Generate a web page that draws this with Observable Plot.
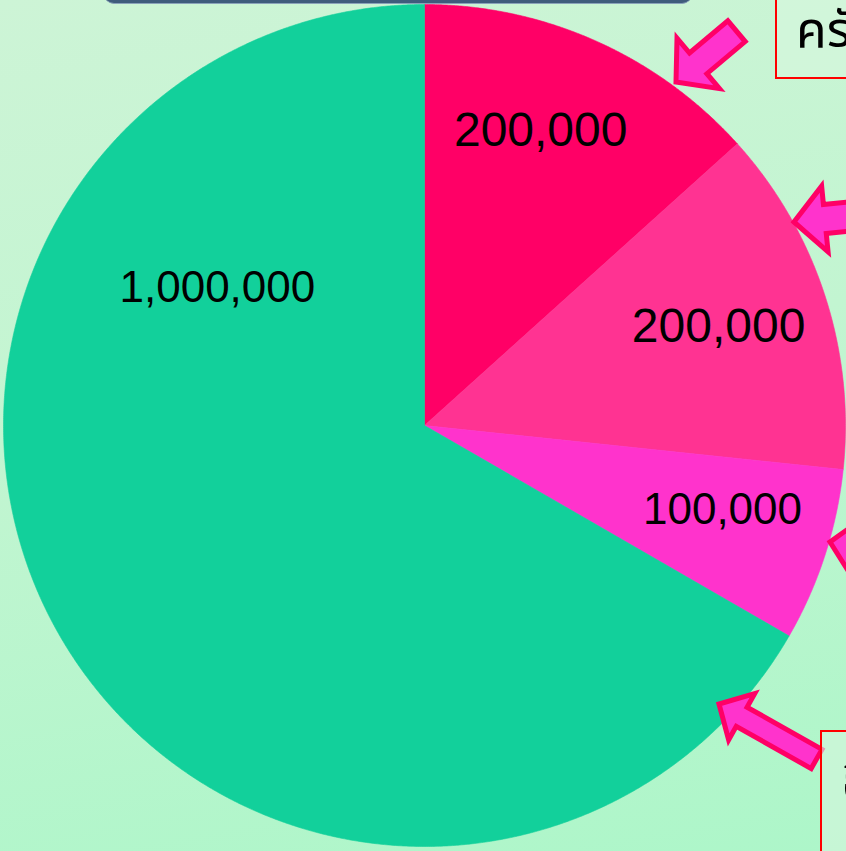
<!DOCTYPE html>
<html><head><meta charset="utf-8">
<script src="https://cdn.jsdelivr.net/npm/d3@7"></script>
<script src="https://cdn.jsdelivr.net/npm/@observablehq/plot@0.6"></script>
<style>
html,body{margin:0;padding:0;}
body{width:846px;height:851px;overflow:hidden;position:relative;
  background:linear-gradient(170deg,#cdf4d6 0%,#c2f5d1 45%,#adf6c9 100%);}
#topbar{position:absolute;left:104px;top:-30px;width:588px;height:33px;border-radius:10px;
  background:#3f5c7c;border-bottom:1px solid #8aa2ba;}
#chart{position:absolute;left:0;top:0;}
</style></head><body>
<div id="topbar"></div>
<div id="chart"></div>
<script>
// ---- data ----
const categories = ["ส่วนที่ 1", "ส่วนที่ 2", "ส่วนที่ 3", "ส่วนที่ 4"];
const values = [200000, 200000, 100000, 1000000];
const colors = ["#ff0066", "#ff3392", "#ff33cc", "#12d09b"];
const valueLabels = values.map(d3.format(","));

// ---- build slices (clockwise from 12 o'clock) ----
const total = d3.sum(values);
let acc = 0;
const slices = values.map((v, i) => {
  const a0 = acc / total * 2 * Math.PI; acc += v;
  const a1 = acc / total * 2 * Math.PI;
  return {cat: categories[i], a0, a1};
});
const piePts = [];
for (const s of slices) {
  piePts.push({cat: s.cat, x: 0, y: 0});
  const n = Math.max(2, Math.ceil((s.a1 - s.a0) / (Math.PI / 720)));
  for (let k = 0; k <= n; k++) {
    const a = s.a0 + (s.a1 - s.a0) * k / n;
    piePts.push({cat: s.cat, x: Math.sin(a), y: Math.cos(a)});
  }
  piePts.push({cat: s.cat, x: 0, y: 0});
}
// label placement (angle in degrees clockwise from top, fraction of radius, font size)
const labelPlace = [[21.5, 0.753, 48], [71.4, 0.737, 48], [105.9, 0.736, 44], [303.5, 0.59, 44]];
const labelData = valueLabels.map((t, i) => {
  const a = labelPlace[i][0] * Math.PI / 180, r = labelPlace[i][1];
  return {text: t, x: r * Math.sin(a), y: r * Math.cos(a), size: labelPlace[i][2]};
});

const chart = Plot.plot({
  width: 846, height: 851, margin: 0,
  style: {background: "none", overflow: "visible"},
  x: {domain: [-1, 1], range: [3, 845], axis: null},
  y: {domain: [-1, 1], range: [846, 4], axis: null},
  color: {domain: categories, range: colors},
  marks: [
    Plot.line(piePts, {x: "x", y: "y", z: "cat", fill: "cat", stroke: "cat", strokeWidth: 0.6, curve: "linear"}),
    Plot.text(labelData.filter(d => d.size === 48), {x: "x", y: "y", text: "text", fontSize: 48, fill: "black",
      fontFamily: "'Liberation Sans', Arial, sans-serif"}),
    Plot.text(labelData.filter(d => d.size === 44), {x: "x", y: "y", text: "text", fontSize: 44, fill: "black",
      fontFamily: "'Liberation Sans', Arial, sans-serif"})
  ]
});
document.getElementById("chart").appendChild(chart);

// ---- decorations: callout boxes and block arrows (pixel space) ----
const svg = d3.select(chart);
const deco = svg.append("g");
const arrows = [
  {tip: [676, 82], ang: -40, L: 79, hl: 29, h: 33, w: 13.5},
  {tip: [794, 222], ang: -5.6, L: 100, hl: 31, h: 33, w: 14.5},
  {tip: [830, 542], ang: 11, L: 100, hl: 31, h: 33, w: 14.5},
  {tip: [719, 704], ang: 29.4, L: 112, hl: 26, h: 26.5, w: 11}
];
for (const a of arrows) {
  const t = a.ang * Math.PI / 180;
  const u = [Math.cos(t), Math.sin(t)], v = [-Math.sin(t), Math.cos(t)];
  const P = (p, q) => [a.tip[0] + u[0] * p + v[0] * q, a.tip[1] + u[1] * p + v[1] * q];
  const pts = [P(0, 0), P(a.hl, a.h), P(a.hl, a.w), P(a.L, a.w), P(a.L, -a.w), P(a.hl, -a.w), P(a.hl, -a.h)];
  deco.append("path").attr("d", "M" + pts.map(p => p.join(",")).join("L") + "Z")
    .attr("fill", "#ff33cc").attr("stroke", "#ff0066").attr("stroke-width", 5)
    .attr("stroke-linejoin", "miter");
}
const boxes = [
  {x: 776, y: -20, w: 200, h: 98, text: "ครัวเรือน", tx: 796, ty: 47},
  {x: 821, y: 731, w: 200, h: 200, text: "อื่น ๆ", tx: 842, ty: 800}
];
for (const b of boxes) {
  deco.append("rect").attr("x", b.x).attr("y", b.y).attr("width", b.w).attr("height", b.h)
    .attr("fill", "rgba(215,247,222,0.6)").attr("stroke", "#ff0000").attr("stroke-width", 2);
  deco.append("text").attr("x", b.tx).attr("y", b.ty).text(b.text)
    .attr("text-anchor", "start")
    .attr("font-size", 50).attr("font-family", "'Noto Sans Thai','Noto Sans',sans-serif").attr("fill", "#000");
}
</script>
</body></html>
